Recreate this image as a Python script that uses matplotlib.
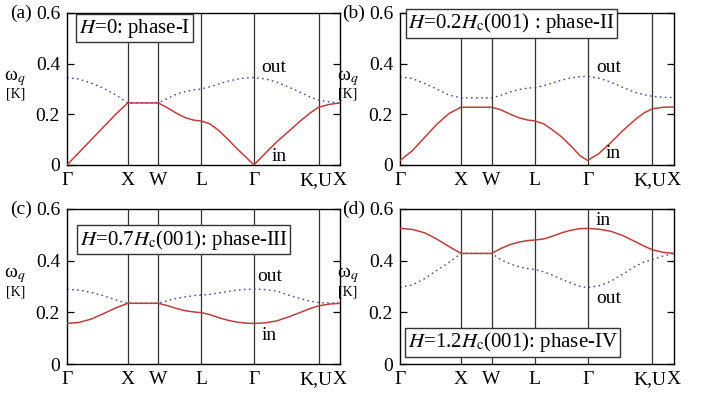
import matplotlib
matplotlib.use("Agg")
import matplotlib.pyplot as plt
from matplotlib.transforms import ScaledTranslation

plt.rcParams["font.family"] = ["Liberation Serif", "DejaVu Serif"]
plt.rcParams["mathtext.fontset"] = "stix"

# path position along Γ-X-W-L-Γ-K(U)-X (units of 2π/a)
k = [0.0, 0.2, 0.4, 0.6, 0.8, 1.0,
     1.25, 1.5,
     1.65, 1.8, 1.95, 2.1, 2.207,
     2.35, 2.5, 2.65, 2.8, 2.95, 3.073,
     3.25, 3.45, 3.65, 3.85, 4.0, 4.134,
     4.31, 4.487]
k_nodes = [0.0, 1.0, 1.5, 2.207, 3.073, 4.134, 4.487]
k_labels = ["Γ", "X", "W", "L", "Γ", "K,U", "X"]

# phase-I, H = 0
in_a = [0.0, 0.05, 0.10, 0.15, 0.20, 0.245,
        0.245, 0.245,
        0.226, 0.204, 0.186, 0.176, 0.174,
        0.162, 0.135, 0.100, 0.063, 0.029, 0.0,
        0.044, 0.092, 0.134, 0.177, 0.206, 0.228,
        0.239, 0.245]
out_a = [0.345, 0.339, 0.323, 0.303, 0.277, 0.245,
         0.245, 0.245,
         0.262, 0.280, 0.290, 0.297, 0.300,
         0.309, 0.320, 0.331, 0.339, 0.344, 0.345,
         0.340, 0.327, 0.307, 0.285, 0.268, 0.256,
         0.249, 0.245]

# phase-II, H = 0.2 Hc
in_b = [0.018, 0.056, 0.108, 0.160, 0.203, 0.228,
        0.228, 0.228,
        0.218, 0.201, 0.186, 0.177, 0.174,
        0.163, 0.138, 0.110, 0.075, 0.036, 0.018,
        0.044, 0.088, 0.136, 0.179, 0.206, 0.222,
        0.228, 0.229]
out_b = [0.348, 0.341, 0.322, 0.300, 0.276, 0.265,
         0.265, 0.265,
         0.275, 0.288, 0.298, 0.304, 0.305,
         0.313, 0.324, 0.335, 0.344, 0.349, 0.350,
         0.343, 0.327, 0.306, 0.287, 0.277, 0.271,
         0.267, 0.266]

# phase-III, H = 0.7 Hc
in_c = [0.157, 0.161, 0.174, 0.195, 0.217, 0.235,
        0.235, 0.235,
        0.226, 0.215, 0.206, 0.201, 0.199,
        0.191, 0.179, 0.169, 0.162, 0.158, 0.157,
        0.159, 0.167, 0.183, 0.201, 0.215, 0.225,
        0.232, 0.235]
out_c = [0.289, 0.286, 0.277, 0.264, 0.248, 0.235,
         0.235, 0.235,
         0.245, 0.254, 0.260, 0.265, 0.267,
         0.270, 0.275, 0.281, 0.286, 0.289, 0.290,
         0.288, 0.282, 0.266, 0.252, 0.243, 0.238,
         0.236, 0.235]

# phase-IV, H = 1.2 Hc
in_d = [0.525, 0.521, 0.508, 0.484, 0.455, 0.428,
        0.428, 0.428,
        0.447, 0.462, 0.472, 0.478, 0.480,
        0.484, 0.495, 0.508, 0.518, 0.524, 0.525,
        0.522, 0.514, 0.497, 0.474, 0.456, 0.442,
        0.432, 0.428]
out_d = [0.297, 0.306, 0.330, 0.362, 0.393, 0.428,
         0.428, 0.428,
         0.404, 0.388, 0.376, 0.369, 0.366,
         0.357, 0.344, 0.328, 0.313, 0.300, 0.296,
         0.302, 0.320, 0.348, 0.378, 0.395, 0.404,
         0.418, 0.428]

panels = [
    dict(rect=[0.0949, 0.5865, 0.3867, 0.381], tag="(a)", w_in=in_a, w_out=out_a,
         title="$H$=0: phase-I", box=(0.247, 0.90),
         out_pos=(3.20, 0.383), in_pos=(3.37, 0.035)),
    dict(rect=[0.5666, 0.5865, 0.3881, 0.381], tag="(b)", w_in=in_b, w_out=out_b,
         title="$H$=0.2$H_{\\mathrm{c}}$(001) : phase-II", box=(0.407, 0.931),
         out_pos=(3.21, 0.383), in_pos=(3.36, 0.045)),
    dict(rect=[0.0949, 0.0877, 0.3867, 0.3885], tag="(c)", w_in=in_c, w_out=out_c,
         title="$H$=0.7$H_{\\mathrm{c}}$(001): phase-III", box=(0.427, 0.80),
         out_pos=(3.12, 0.337), in_pos=(3.20, 0.112)),
    dict(rect=[0.5666, 0.0877, 0.3881, 0.3885], tag="(d)", w_in=in_d, w_out=out_d,
         title="$H$=1.2$H_{\\mathrm{c}}$(001): phase-IV", box=(0.411, 0.139),
         out_pos=(3.21, 0.255), in_pos=(3.21, 0.557)),
]

fig = plt.figure(figsize=(7.06, 3.99), dpi=100)
nudge = ScaledTranslation(-3 / 100, 0, fig.dpi_scale_trans)

for p in panels:
    ax = fig.add_axes(p["rect"])
    for kn in k_nodes[1:-1]:
        ax.axvline(kn, color="#333333", lw=0.9, zorder=1)
    ax.plot(k, p["w_out"], color="#4a4a8c", lw=1.0, ls=(0, (1.2, 2.4)), zorder=2)
    ax.plot(k, p["w_in"], color="#bb403c", lw=1.1, zorder=3)

    ax.set_xlim(k_nodes[0], k_nodes[-1])
    ax.set_ylim(0, 0.6)
    ax.set_xticks(k_nodes)
    ax.set_xticklabels(k_labels)
    ax.set_yticks([0, 0.2, 0.4, 0.6])
    ax.set_yticklabels(["0", "0.2", "0.4", "0.6"])
    ax.tick_params(axis="x", length=0, pad=5, labelsize=14)
    ax.tick_params(axis="y", direction="in", length=5, width=0.9, right=True,
                   pad=5, labelsize=14)
    # shift "K,U" a few pixels left so it clears the closing X
    ku = ax.xaxis.get_major_ticks()[5].label1
    ku.set_transform(ku.get_transform() + nudge)
    for s in ax.spines.values():
        s.set_linewidth(1.0)

    ax.text(p["out_pos"][0], p["out_pos"][1], "out", fontsize=14, va="center")
    ax.text(p["in_pos"][0], p["in_pos"][1], "in", fontsize=14, va="center")

    ax.text(p["box"][0], p["box"][1], p["title"], transform=ax.transAxes,
            fontsize=15, ha="center", va="center", zorder=5, clip_on=False,
            bbox=dict(boxstyle="square,pad=0.12", fc="white", ec="#333333", lw=1.0))

    ax.text(-0.17, 1.0, p["tag"], transform=ax.transAxes, fontsize=14,
            ha="center", va="center")
    ax.text(-0.19, 0.575, "ω$_q$", transform=ax.transAxes, fontsize=14,
            ha="center", va="center")
    ax.text(-0.19, 0.465, "[K]", transform=ax.transAxes, fontsize=10,
            ha="center", va="center")

fig.savefig("out.png", dpi=100)
